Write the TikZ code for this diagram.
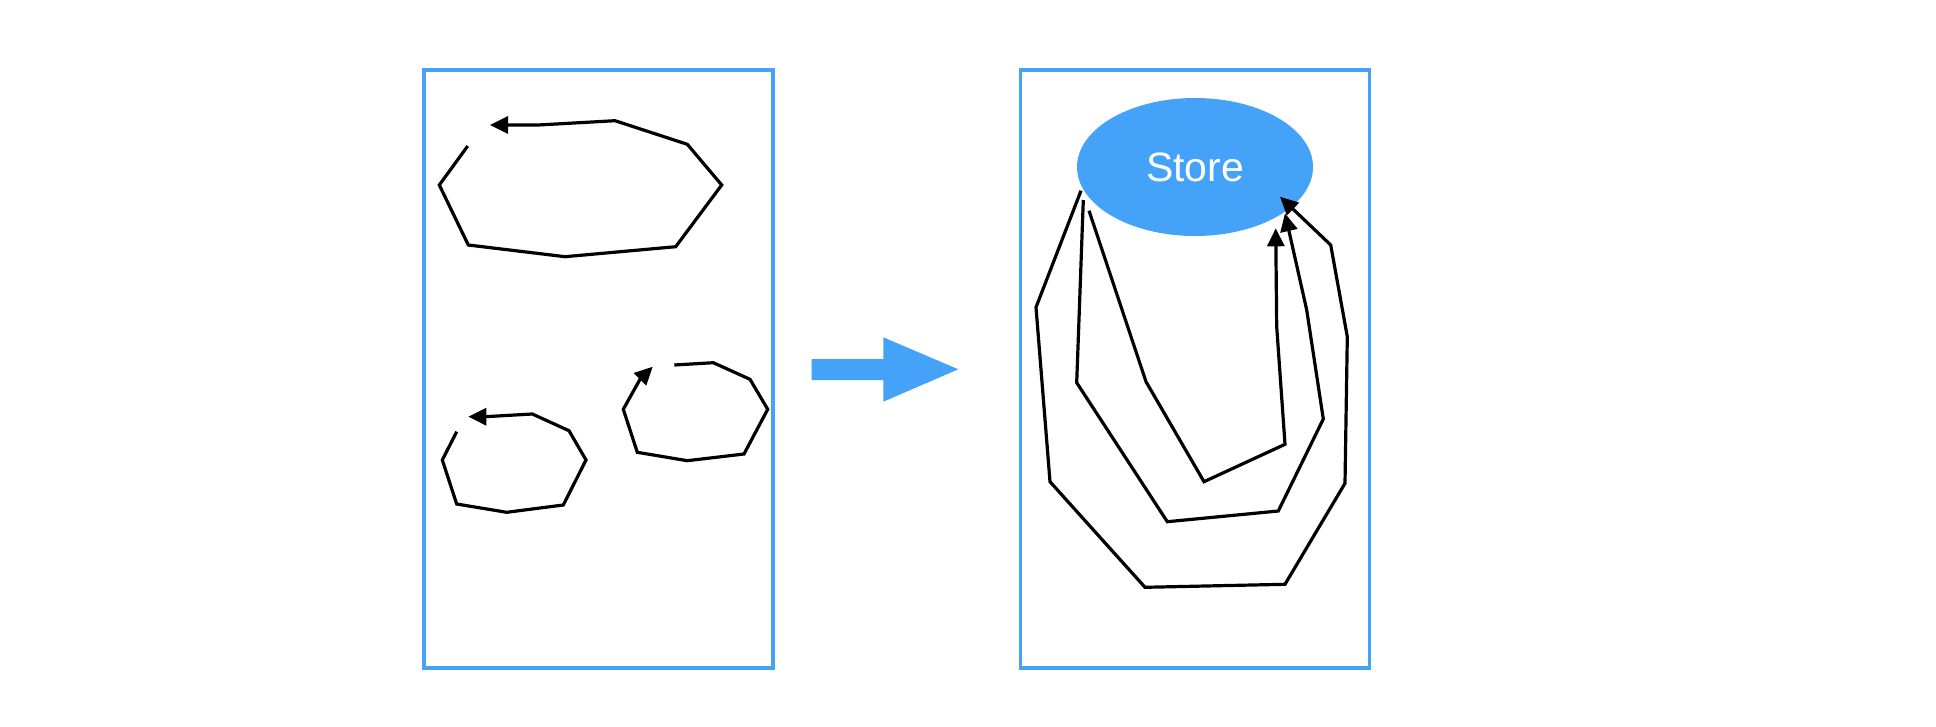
\documentclass[tikz,border=0pt]{standalone}
\usepackage{fontspec}
\setmainfont{Liberation Sans}
\usetikzlibrary{arrows.meta,shapes.geometric}
\definecolor{skyblue}{HTML}{44A2F8}
\begin{document}
\begin{tikzpicture}[x=1pt,y=-1pt,
  panel/.style={draw=skyblue,line width=3.8pt,inner sep=0pt,minimum width=349pt,minimum height=598pt},
  curve/.style={draw=black,line width=3.2pt},
  arr/.style={curve,-{Triangle[length=18pt,width=17pt]}}]
\useasboundingbox (0,0) rectangle (1936,726);
% panels
\node[panel] (leftpanel) at (598.5,369) {};
\node[panel] (rightpanel) at (1195,369) {};
% big arrow
\fill[skyblue] (811.7,359) -- (883.3,359) -- (883.3,337.3) -- (958.3,369.3) -- (883.3,401.7) -- (883.3,380) -- (811.7,380) -- cycle;
% store
\node[ellipse,fill=skyblue,minimum width=236pt,minimum height=138pt,inner sep=0pt,text=white,font=\fontsize{41}{50}\selectfont] (store) at (1195,167) {Store};
% left panel curves
\coordinate (a1s) at (467.7,146);
\coordinate (a1e) at (490,125);
\draw[arr] (a1s) -- (439.3,185) -- (468.3,245) -- (565,256.7) -- (675.7,246.7) -- (721.7,185) -- (687.3,144.3) -- (615,120.7) -- (538.3,125) -- (a1e);
\coordinate (a2s) at (456.7,431.7);
\coordinate (a2e) at (468.3,416.7);
\draw[arr] (a2s) -- (442.3,460) -- (456.7,504) -- (506.7,512.3) -- (563.3,505) -- (586,460) -- (569,430.7) -- (532.3,414) -- (485,416.7) -- (a2e);
\coordinate (a3s) at (674.3,365);
\coordinate (a3e) at (652.7,366.7);
\draw[arr] (a3s) -- (713.3,362.7) -- (750,379.3) -- (767.7,409.3) -- (744,454) -- (687.3,460.7) -- (637.3,452.3) -- (623.3,409.3) -- (640,379.3) -- (a3e);
% right panel curves
\coordinate (b1s) at (1081,190.7);
\coordinate (b1e) at (1280,196.7);
\draw[arr] (b1s) -- (1036,307.3) -- (1050,481.7) -- (1145,587.3) -- (1285,584.3) -- (1345,483.3) -- (1347.3,336.7) -- (1330.7,245) -- (b1e);
\coordinate (b2s) at (1083.3,200);
\coordinate (b2e) at (1285,213.3);
\draw[arr] (b2s) -- (1076.7,382.7) -- (1167.3,521.7) -- (1278.3,511) -- (1323.3,419) -- (1306.7,310) -- (b2e);
\coordinate (b3s) at (1089,210.7);
\coordinate (b3e) at (1275.7,228.3);
\draw[arr] (b3s) -- (1146,381.7) -- (1204,481.7) -- (1285,444.3) -- (1276.7,326.7) -- (b3e);
\end{tikzpicture}
\end{document}
